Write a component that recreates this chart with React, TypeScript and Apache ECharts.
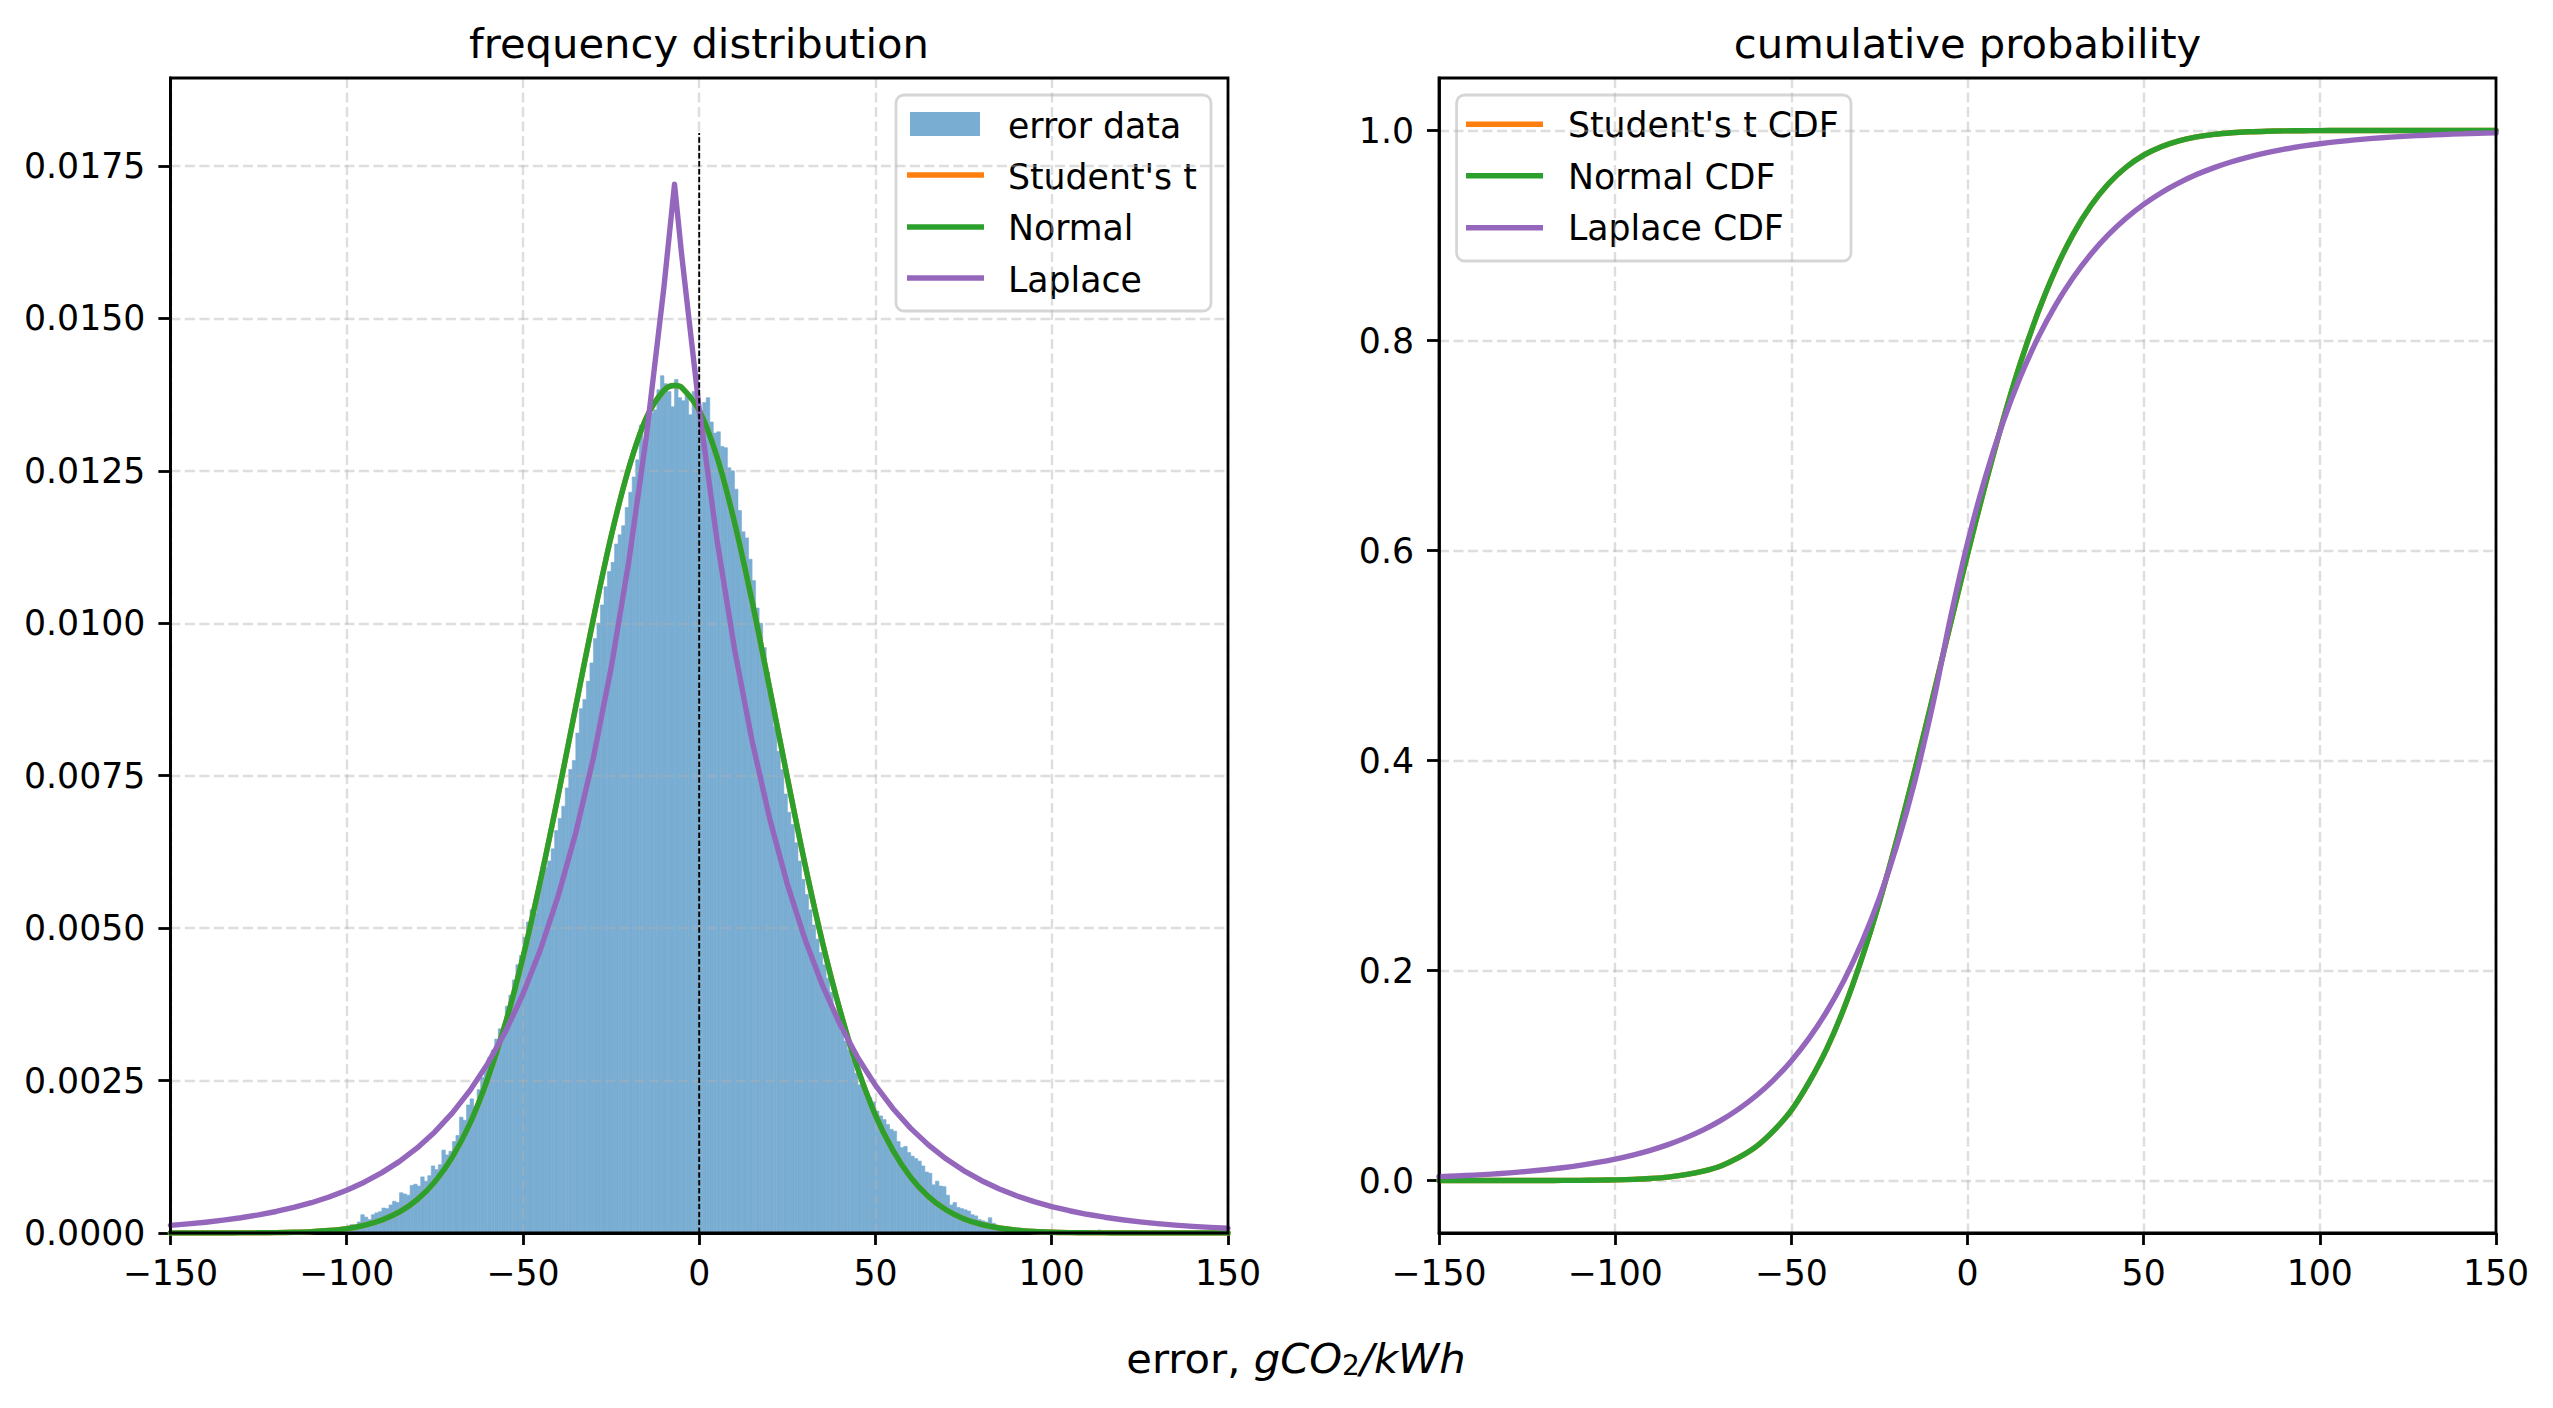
import React, { useEffect, useRef } from 'react';
import * as echarts from 'echarts';

// ---------------- data ----------------
const HIST_START = -110; // left edge of first bin
const HIST_BIN = 1; // bin width
const HIST_DENSITY = [
  0.00002, 0.00000, 0.00003, 0.00002, 0.00004, 0.00003, 0.00006, 0.00005, 0.00008, 0.00010,
  0.00011, 0.00014, 0.00012, 0.00018, 0.00030, 0.00026, 0.00022, 0.00030, 0.00033, 0.00035,
  0.00041, 0.00040, 0.00046, 0.00052, 0.00050, 0.00066, 0.00064, 0.00062, 0.00078, 0.00080,
  0.00077, 0.00092, 0.00085, 0.00094, 0.00110, 0.00104, 0.00112, 0.00136, 0.00128, 0.00134,
  0.00150, 0.00160, 0.00190, 0.00185, 0.00210, 0.00220, 0.00205, 0.00235, 0.00255, 0.00270,
  0.00288, 0.00300, 0.00318, 0.00335, 0.00330, 0.00372, 0.00390, 0.00415, 0.00440, 0.00455,
  0.00485, 0.00510, 0.00530, 0.00525, 0.00565, 0.00585, 0.00600, 0.00610, 0.00630, 0.00660,
  0.00680, 0.00700, 0.00730, 0.00760, 0.00775, 0.00820, 0.00860, 0.00875, 0.00905, 0.00935,
  0.00975, 0.01000, 0.01030, 0.01060, 0.01085, 0.01100, 0.01130, 0.01145, 0.01160, 0.01190,
  0.01215, 0.01240, 0.01268, 0.01325, 0.01284, 0.01340, 0.01345, 0.01350, 0.01383, 0.01406,
  0.01393, 0.01380, 0.01355, 0.01400, 0.01370, 0.01365, 0.01375, 0.01342, 0.01380, 0.01350,
  0.01348, 0.01362, 0.01370, 0.01330, 0.01312, 0.01314, 0.01290, 0.01288, 0.01255, 0.01250,
  0.01220, 0.01185, 0.01150, 0.01140, 0.01105, 0.01070, 0.01025, 0.01000, 0.00960, 0.00920,
  0.00870, 0.00830, 0.00790, 0.00760, 0.00720, 0.00690, 0.00670, 0.00640, 0.00610, 0.00580,
  0.00555, 0.00530, 0.00505, 0.00482, 0.00460, 0.00440, 0.00418, 0.00395, 0.00365, 0.00348,
  0.00330, 0.00315, 0.00300, 0.00285, 0.00262, 0.00243, 0.00240, 0.00228, 0.00222, 0.00215,
  0.00200, 0.00192, 0.00186, 0.00178, 0.00170, 0.00167, 0.00150, 0.00140, 0.00142, 0.00132,
  0.00126, 0.00122, 0.00118, 0.00110, 0.00100, 0.00098, 0.00079, 0.00085, 0.00077, 0.00076,
  0.00062, 0.00046, 0.00050, 0.00042, 0.00040, 0.00038, 0.00036, 0.00030, 0.00028, 0.00022,
  0.00020, 0.00018, 0.00025, 0.00016, 0.00013, 0.00010, 0.00008, 0.00007, 0.00006, 0.00005,
  0.00005, 0.00004, 0.00004, 0.00003, 0.00003, 0.00002, 0.00003, 0.00002, 0.00002, 0.00002,
  0.00001, 0.00002, 0.00001, 0.00002, 0.00001, 0.00001, 0.00001, 0.00000, 0.00001, 0.00001,
  0.00000, 0.00001, 0.00000, 0.00005, 0.00001, 0.00001,
];

const CURVE_X = [
  -150, -145, -140, -135, -130, -125, -120, -115, -110, -105,
  -100, -95, -90, -85, -80, -75, -70, -65, -60, -55,
  -50, -45, -40, -35, -30, -25, -20, -15, -10, -7,
  -5, 0, 5, 10, 15, 20, 25, 30, 35, 40,
  45, 50, 55, 60, 65, 70, 75, 80, 85, 90,
  95, 100, 105, 110, 115, 120, 125, 130, 135, 140,
  145, 150,
];

const NORMAL_PDF = [
  0.0000001, 0.0000001, 0.0000003, 0.0000007, 0.0000014, 0.000003, 0.000006, 0.0000117, 0.000022, 0.000041,
  0.000073, 0.000126, 0.000213, 0.000346, 0.000547, 0.000839, 0.00125, 0.0018, 0.00253, 0.00343,
  0.00452, 0.00579, 0.00718, 0.00864, 0.01008, 0.01142, 0.01254, 0.01337, 0.01382, 0.0139,
  0.01387, 0.01349, 0.01274, 0.01166, 0.01036, 0.00893, 0.00747, 0.00605, 0.00476, 0.00364,
  0.00269, 0.00193, 0.00135, 0.000911, 0.000598, 0.00038, 0.000234, 0.00014, 0.000082, 0.000046,
  0.000025, 0.000013, 0.0000066, 0.0000032, 0.0000015, 0.0000007, 0.0000003, 0.0000001, 0.0000001, 0,
  0, 0,
];

// Student's t fit is indistinguishable from the normal fit (hidden beneath it)
const STUDENT_T_PDF = NORMAL_PDF;

const LAPLACE_PDF = [
  0.000126, 0.000149, 0.000177, 0.000211, 0.00025, 0.000297, 0.000353, 0.000419, 0.000497, 0.000591,
  0.000702, 0.000833, 0.00099, 0.001175, 0.001396, 0.001658, 0.001969, 0.002339, 0.002778, 0.003299,
  0.003918, 0.004654, 0.005528, 0.006566, 0.007797, 0.009261, 0.011, 0.013063, 0.015515, 0.0172,
  0.016056, 0.013519, 0.011383, 0.009584, 0.00807, 0.006795, 0.005721, 0.004817, 0.004056, 0.003415,
  0.002875, 0.002421, 0.002038, 0.001716, 0.001445, 0.001217, 0.001024, 0.000862, 0.000726, 0.000611,
  0.000515, 0.000433, 0.000365, 0.000307, 0.000259, 0.000218, 0.000183, 0.000154, 0.00013, 0.000109,
  0.000092, 0.000078,
];

const NORMAL_CDF = [
  0, 0, 0.000002, 0.000004, 0.000009, 0.00002, 0.00004, 0.000085, 0.000166, 0.000325,
  0.0006, 0.00107, 0.00193, 0.00326, 0.00554, 0.0089, 0.0139, 0.0217, 0.0322, 0.0475,
  0.0668, 0.0934, 0.1251, 0.1645, 0.2115, 0.2653, 0.3253, 0.3901, 0.4582, 0.5,
  0.5278, 0.5964, 0.662, 0.7231, 0.7784, 0.8266, 0.8676, 0.9013, 0.9283, 0.9493,
  0.965, 0.9765, 0.9846, 0.9902, 0.9939, 0.99635, 0.99786, 0.99878, 0.99933, 0.99964,
  0.99981, 0.9999, 0.99995, 0.99998, 0.99999, 1, 1, 1, 1, 1,
  1, 1,
];

const STUDENT_T_CDF = NORMAL_CDF;

const LAPLACE_CDF = [
  0.00366, 0.00434, 0.00516, 0.00612, 0.00727, 0.00864, 0.01025, 0.01218, 0.01446, 0.01718,
  0.0204, 0.02423, 0.02877, 0.03417, 0.04059, 0.04821, 0.05725, 0.068, 0.08075, 0.0959,
  0.1139, 0.1353, 0.1607, 0.19085, 0.22665, 0.2692, 0.31975, 0.37975, 0.451, 0.5,
  0.53325, 0.607, 0.6691, 0.7214, 0.7654, 0.8025, 0.8337, 0.85995, 0.8821, 0.90075,
  0.9164, 0.9296, 0.94075, 0.9501, 0.958, 0.96465, 0.97025, 0.97495, 0.9789, 0.98225,
  0.98505, 0.9874, 0.9894, 0.99107, 0.99248, 0.99367, 0.99467, 0.99551, 0.99622, 0.99682,
  0.99732, 0.99775,
];

const ZERO_LINE = [
  [0, 0],
  [0, 0.01804],
];

const PDF_Y_TICKS = [0, 0.0025, 0.005, 0.0075, 0.01, 0.0125, 0.015, 0.0175];
const CDF_Y_TICKS = [0, 0.2, 0.4, 0.6, 0.8, 1.0];
const X_TICKS = [-150, -100, -50, 0, 50, 100, 150];

const LEFT_LEGEND = ['error data', "Student's t", 'Normal', 'Laplace'];
const RIGHT_LEGEND = ["Student's t CDF", 'Normal CDF', 'Laplace CDF'];

// ---------------- styles ----------------
const FONT = 'DejaVu Sans';
const C_HIST = '#79add2';
const C_T = '#ff7f0e';
const C_NORM = '#2ca02c';
const C_LAP = '#9467bd';
const TICK_FS = 34.7;
const TITLE_FS = 41.7;
const LINE_W = 5.4;
const GRID_COLOR = 'rgba(176,176,176,0.42)';

const G1 = { left: 170.4, top: 78, width: 1057.6, height: 1155 };
const G2 = { left: 1439, top: 78, width: 1057, height: 1155 };

const fmtX = (v: number) => (v < 0 ? '\u2212' + Math.abs(v) : String(v));

function xAxisCfg(gridIndex: number) {
  return {
    type: 'value',
    gridIndex,
    min: -150,
    max: 150,
    interval: 50,
    axisLine: { show: true, onZero: false, lineStyle: { color: '#000', width: 2.8 } },
    axisTick: { show: true, length: 12, customValues: X_TICKS, lineStyle: { color: '#000', width: 2.8 } },
    axisLabel: {
      margin: 22,
      fontSize: TICK_FS,
      fontFamily: FONT,
      color: '#000',
      customValues: X_TICKS,
      formatter: (v: number) => fmtX(v),
    },
    splitLine: { show: true, lineStyle: { color: GRID_COLOR, width: 2.4, type: [10, 4.5] } },
  };
}

function lineSeries(name: string, xi: number, ys: number[], color: string, smooth: any, z = 3) {
  return {
    name,
    type: 'line',
    xAxisIndex: xi,
    yAxisIndex: xi,
    data: CURVE_X.map((x, i) => [x, ys[i]]),
    symbol: 'none',
    smooth,
    clip: true,
    z,
    lineStyle: { color, width: LINE_W, cap: 'round', join: 'round' },
    itemStyle: { color },
  };
}

function legendGraphic(
  box: { x: number; y: number; w: number; h: number },
  handleX: number,
  textX: number,
  items: { label: string; kind: 'rect' | 'line'; color: string; cy: number; ty: number }[]
) {
  const children: any[] = [
    {
      type: 'rect',
      shape: { x: box.x, y: box.y, width: box.w, height: box.h, r: 8 },
      style: { fill: 'rgba(255,255,255,0.8)', stroke: '#d6d6d6', lineWidth: 2.8 },
    },
  ];
  items.forEach((it) => {
    if (it.kind === 'rect') {
      children.push({
        type: 'rect',
        shape: { x: handleX + 3, y: it.cy - 12, width: 70, height: 24 },
        style: { fill: it.color },
      });
    } else {
      children.push({
        type: 'line',
        shape: { x1: handleX, y1: it.cy, x2: handleX + 77, y2: it.cy },
        style: { stroke: it.color, lineWidth: LINE_W },
      });
    }
    children.push({
      type: 'text',
      x: textX,
      y: it.ty,
      style: {
        text: it.label,
        fontSize: TICK_FS,
        fontFamily: FONT,
        fill: '#000',
        align: 'left',
        verticalAlign: 'middle',
      },
    });
  });
  return { type: 'group', z: 100, children };
}

function frame(g: { left: number; top: number; width: number; height: number }) {
  return {
    type: 'rect',
    z: 60,
    silent: true,
    shape: { x: g.left, y: g.top, width: g.width, height: g.height },
    style: { fill: 'none', stroke: '#000', lineWidth: 2.8 },
  };
}

function yAxisBase(gridIndex: number) {
  return {
    type: 'value',
    gridIndex,
    axisLine: { show: true, onZero: false, lineStyle: { color: '#000', width: 2.8 } },
    splitLine: { show: true, lineStyle: { color: GRID_COLOR, width: 2.4, type: [10, 4.5] } },
  };
}

export default function App() {
  const ref = useRef<HTMLDivElement>(null);

  useEffect(() => {
    if (!ref.current) return;
    const chart = echarts.init(ref.current, undefined, { renderer: 'svg' });

    const histData = HIST_DENSITY.map((v, i) => [
      HIST_START + i * HIST_BIN,
      HIST_START + (i + 1) * HIST_BIN,
      v,
    ]);

    const option: any = {
      animation: false,
      backgroundColor: '#ffffff',
      grid: [
        { ...G1, show: false, containLabel: false },
        { ...G2, show: false, containLabel: false },
      ],
      xAxis: [xAxisCfg(0), xAxisCfg(1)],
      yAxis: [
        {
          ...yAxisBase(0),
          min: 0,
          max: 0.018943,
          interval: 0.0025,
          axisTick: { show: true, length: 12, customValues: PDF_Y_TICKS, lineStyle: { color: '#000', width: 2.8 } },
          axisLabel: {
            margin: 25,
            fontSize: TICK_FS,
            fontFamily: FONT,
            color: '#000',
            customValues: PDF_Y_TICKS,
            formatter: (v: number) => {
              const k = v / 0.0025;
              return Math.abs(k - Math.round(k)) < 1e-6 ? v.toFixed(4) : '';
            },
          },
        },
        {
          ...yAxisBase(1),
          min: -0.05,
          max: 1.05,
          axisTick: { show: true, length: 12, customValues: CDF_Y_TICKS, lineStyle: { color: '#000', width: 2.8 } },
          axisLabel: {
            margin: 25,
            fontSize: TICK_FS,
            fontFamily: FONT,
            color: '#000',
            customValues: CDF_Y_TICKS,
            formatter: (v: number) => {
              const k = v / 0.2;
              return Math.abs(k - Math.round(k)) < 1e-6 ? v.toFixed(1) : '';
            },
          },
        },
      ],
      series: [
        {
          name: 'error data',
          type: 'custom',
          xAxisIndex: 0,
          yAxisIndex: 0,
          z: -1,
          encode: { x: [0, 1], y: 2 },
          data: histData,
          renderItem: (params: any, api: any) => {
            const h = api.value(2);
            if (!(h > 0)) return null;
            const p0 = api.coord([api.value(0), h]);
            const p1 = api.coord([api.value(1), 0]);
            return {
              type: 'rect',
              shape: { x: p0[0], y: p0[1], width: p1[0] - p0[0], height: p1[1] - p0[1] },
              style: { fill: C_HIST, stroke: C_HIST, lineWidth: 0.6 },
            };
          },
        },
        lineSeries("Student's t", 0, STUDENT_T_PDF, C_T, 0.35, 3),
        lineSeries('Normal', 0, NORMAL_PDF, C_NORM, 0.35, 4),
        lineSeries('Laplace', 0, LAPLACE_PDF, C_LAP, false, 5),
        {
          name: 'zero',
          type: 'line',
          xAxisIndex: 0,
          yAxisIndex: 0,
          data: ZERO_LINE,
          symbol: 'none',
          z: 6,
          lineStyle: { color: '#000', width: 1.9, type: [5.5, 2.4] },
        },
        lineSeries("Student's t CDF", 1, STUDENT_T_CDF, C_T, 0.35, 3),
        lineSeries('Normal CDF', 1, NORMAL_CDF, C_NORM, 0.35, 4),
        lineSeries('Laplace CDF', 1, LAPLACE_CDF, C_LAP, 0.35, 5),
      ],
      graphic: [
        frame(G1),
        frame(G2),
        {
          type: 'text',
          x: 699,
          y: 43.8,
          style: {
            text: 'frequency distribution',
            fontSize: TITLE_FS,
            fontFamily: FONT,
            fill: '#000',
            align: 'center',
            verticalAlign: 'middle',
          },
        },
        {
          type: 'text',
          x: 1967.5,
          y: 43.8,
          style: {
            text: 'cumulative probability',
            fontSize: TITLE_FS,
            fontFamily: FONT,
            fill: '#000',
            align: 'center',
            verticalAlign: 'middle',
          },
        },
        {
          type: 'text',
          x: 1296,
          y: 1358.7,
          style: {
            text: '{r|error, }{i|gCO}{s|2}{i|/kWh}',
            align: 'center',
            verticalAlign: 'middle',
            fill: '#000',
            rich: {
              r: { fontSize: TITLE_FS, fontFamily: FONT, lineHeight: 42, verticalAlign: 'middle', fill: '#000' },
              i: { fontSize: TITLE_FS, fontFamily: FONT, fontStyle: 'italic', lineHeight: 42, verticalAlign: 'middle', fill: '#000' },
              s: { fontSize: 28, fontFamily: FONT, lineHeight: 16, verticalAlign: 'bottom', fill: '#000' },
            },
          },
        },
        legendGraphic({ x: 896, y: 95, w: 315, h: 216 }, 907, 1008, [
          { label: LEFT_LEGEND[0], kind: 'rect', color: C_HIST, cy: 124, ty: 126.2 },
          { label: LEFT_LEGEND[1], kind: 'line', color: C_T, cy: 175, ty: 177 },
          { label: LEFT_LEGEND[2], kind: 'line', color: C_NORM, cy: 227, ty: 228 },
          { label: LEFT_LEGEND[3], kind: 'line', color: C_LAP, cy: 278, ty: 279.6 },
        ]),
        legendGraphic({ x: 1456.6, y: 95, w: 394.4, h: 166 }, 1466, 1568, [
          { label: RIGHT_LEGEND[0], kind: 'line', color: C_T, cy: 124.3, ty: 125.2 },
          { label: RIGHT_LEGEND[1], kind: 'line', color: C_NORM, cy: 175.7, ty: 177 },
          { label: RIGHT_LEGEND[2], kind: 'line', color: C_LAP, cy: 227.7, ty: 228 },
        ]),
      ],
    };

    chart.setOption(option);
    return () => {
      chart.dispose();
    };
  }, []);

  return (
    <div
      ref={ref}
      style={{ position: 'fixed', left: 0, top: 0, width: 2553, height: 1408, background: '#fff' }}
    />
  );
}
